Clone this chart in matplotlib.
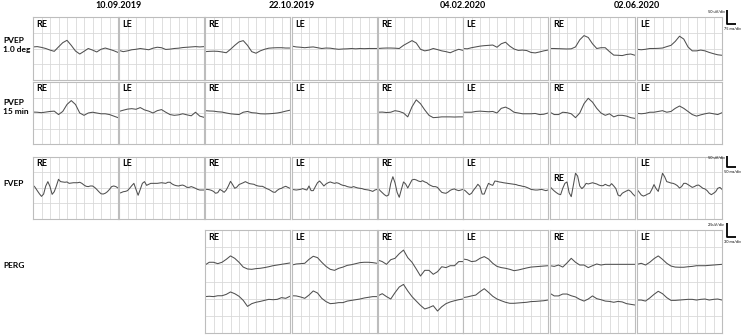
import numpy as np
import matplotlib
matplotlib.use("Agg")
from matplotlib import pyplot as plt

plt.rcParams["font.family"] = ["Lato", "DejaVu Sans"]

W, H = 746, 335

dates = ["10.09.2019", "22.10.2019", "04.02.2020", "02.06.2020"]
eyes = ["RE", "LE"]
row_labels = ["PVEP\n1.0 deg", "PVEP\n15 min", "FVEP", "PERG"]
scale_texts = [("50 uV/div", "75 ms/div"), ("50 uV/div", "50 ms/div"), ("2.5uV/div", "30 ms/div")]

# amplitudes in grid divisions, sampled evenly over the 10 time divisions
pvep_1deg = [
    [0.1, 0.12, 0.07, 0, -0.1, -0.18, 0.1, 0.37, 0.52, 0.2, -0.16, -0.35, -0.18, 0, -0.1, -0.22, -0.05, 0.03, -0.05, -0.14, -0.25],
    [-0.12, -0.2, -0.15, -0.08, -0.05, 0, -0.04, -0.08, 0.02, 0.08, 0.05, -0.06, -0.04, 0, 0.02, 0.06, 0.08, 0.1, 0.12, 0.1, 0.12],
    [-0.2, -0.18, -0.17, -0.18, -0.22, -0.27, -0.05, 0.2, 0.42, 0.5, 0.2, -0.2, -0.3, -0.15, -0.05, 0.02, 0.04, 0.05, 0.05, 0.03, 0.03],
    [0.15, 0.1, 0.08, 0.05, 0.08, 0.1, 0.05, 0, 0.03, 0.02, -0.02, -0.05, -0.03, -0.02, 0, -0.02, 0, -0.01, 0, 0, 0],
    [0, 0.02, 0.03, 0.03, 0.02, 0, 0.2, 0.35, 0.5, 0.35, -0.05, -0.15, -0.1, 0, -0.07, -0.15, -0.2, -0.27, -0.15, -0.05, -0.12],
    [0, -0.02, 0.05, 0.1, 0.15, 0.18, 0.2, 0.22, 0.08, 0.3, 0.4, 0.15, -0.03, -0.12, -0.1, -0.13, -0.25, -0.28, -0.22, -0.15, -0.1],
    [0, 0, -0.01, -0.02, -0.03, -0.02, 0.1, 0.55, 0.82, 0.7, 0.3, 0, 0.05, 0.05, -0.2, -0.42, -0.43, -0.45, -0.38, -0.35, -0.43],
    [-0.05, -0.08, -0.05, 0, 0, 0.01, 0.03, 0.12, 0.2, 0.45, 0.78, 0.6, 0.1, -0.15, -0.15, -0.1, -0.15, -0.25, -0.33, -0.4, -0.43],
]

pvep_15min = [
    [0.06, 0.05, 0.02, 0.06, 0.1, 0.12, -0.1, 0.1, 0.55, 0.8, 0.55, 0, -0.15, 0, 0.05, 0, -0.05, -0.05, -0.1, -0.2, -0.3],
    [0.1, 0.18, 0.25, 0.28, 0.24, 0.35, 0.2, 0.12, 0, 0.15, 0.22, 0.05, -0.1, -0.15, -0.12, -0.05, -0.12, -0.18, 0.05, -0.2, -0.28],
    [0.15, 0.13, 0.12, 0.08, 0.06, 0, -0.05, -0.08, -0.1, 0.05, 0.1, 0.02, 0, -0.05, -0.06, -0.05, -0.03, 0, 0.05, 0.12, 0.18],
    None,
    [0.05, 0.06, 0.03, 0.05, 0.15, 0.1, 0, -0.25, 0.4, 0.85, 0.6, 0.2, -0.15, -0.3, -0.28, -0.25, -0.25, -0.25, -0.26, -0.25, -0.25],
    [0.05, 0.05, 0.05, 0.1, 0.12, 0.1, 0.08, 0.1, 0, 0.3, 0.38, 0.25, 0.05, 0, -0.05, -0.05, -0.05, -0.03, -0.1, -0.08, 0],
    [0.05, -0.1, -0.1, 0.05, 0.02, -0.05, -0.3, 0, 0.6, 0.95, 0.7, 0.3, 0, -0.15, -0.05, -0.25, -0.15, -0.15, -0.2, -0.3, -0.35],
    [-0.02, -0.05, -0.02, 0.05, 0.05, 0.1, 0.15, 0.05, 0.1, 0.3, 0.45, 0.3, 0.1, -0.1, -0.2, -0.12, -0.05, 0, -0.05, -0.1, 0.02],
]

fvep = [
    [0.19, 0.04, -0.17, -0.37, -0.54, -0.39, 0.13, 0.41, 0.09, -0.41, -0.24, 0.13, 0.56, 0.41, 0.39, 0.37, 0.39, 0.3, 0.32, 0.34, 0.34,
     0.34, 0.37, 0.3, 0.19, 0.11, 0.09, 0.13, 0.13, 0.04, -0.09, -0.24, -0.37, -0.39, -0.34, -0.24, -0.09, 0.09, 0.13, 0.09, 0],
    [-0.34, -0.3, -0.24, -0.22, -0.17, -0.02, 0.15, 0.3, -0.09, -0.47, -0.09, 0.3, 0.41, 0.17, 0.24, 0.3, 0.3, 0.3, 0.3, 0.32, 0.34,
     0.32, 0.3, 0.37, 0.37, 0.26, 0.19, 0.15, 0.13, 0.17, 0.19, 0.13, 0.04, 0.04, 0.09, 0.04, -0.02, -0.09, -0.13, -0.13, -0.13],
    [-0.09, -0.09, -0.11, -0.15, -0.22, -0.34, -0.3, -0.09, -0.17, -0.28, -0.13, 0.13, 0.43, 0.22, -0.02, 0.06, 0.22, 0.28, 0.34, 0.41, 0.34,
     0.28, 0.26, 0.24, 0.17, 0.13, 0.11, 0.11, 0.04, -0.04, -0.09, -0.17, -0.26, -0.28, -0.15, -0.06, -0.02, 0.06, 0.11, 0.04, -0.02],
    [-0.09, -0.11, -0.13, -0.11, -0.09, -0.04, -0.09, -0.13, 0.13, -0.17, -0.17, 0.09, 0.34, 0.45, 0.3, 0.13, 0.26, 0.34, 0.39, 0.34, 0.3,
     0.34, 0.3, 0.22, 0.17, 0.15, 0.09, 0.06, 0.04, 0.09, 0.04, 0, -0.02, -0.04, -0.09, -0.11, -0.13, -0.17, -0.22, -0.13, -0.09],
    [-0.02, -0.17, -0.3, -0.43, -0.52, -0.45, 0.3, 0.73, 0.34, -0.28, -0.6, -0.09, 0.39, 0.26, 0, 0.26, 0.52, 0.56, 0.52, 0.45, 0.41,
     0.47, 0.39, 0.34, 0.22, 0.15, 0.09, 0.09, 0.04, -0.13, -0.28, -0.32, -0.34, -0.26, -0.15, -0.09, -0.06, -0.13, -0.17, -0.13, -0.09],
    [-0.09, -0.17, -0.3, -0.43, -0.34, -0.13, 0.04, 0.24, 0.09, -0.39, -0.39, -0.02, 0.3, 0.22, 0.17, 0.45, 0.43, 0.39, 0.37, 0.34, 0.32,
     0.3, 0.28, 0.26, 0.24, 0.22, 0.17, 0.15, 0.11, 0.09, 0.04, -0.02, -0.09, -0.11, -0.13, -0.13, -0.11, -0.09, -0.13, -0.17, -0.13],
    [0.09, -0.06, -0.19, -0.3, -0.39, -0.43, -0.02, 0.3, 0.39, -0.3, -0.56, 0.19, 0.95, 0.77, 0.13, -0.04, 0.09, 0.3, 0.26, 0.3, 0.34,
     0.3, 0.26, 0.19, 0.15, 0.15, 0.24, 0.17, 0.13, 0.28, 0.13, -0.04, -0.45, -0.52, -0.34, -0.26, -0.19, -0.13, -0.22, -0.39, -0.52],
    [-0.09, -0.26, -0.45, -0.52, -0.47, -0.39, -0.34, -0.09, 0.22, -0.04, -0.22, 0.34, 0.95, 0.73, 0.41, 0.37, 0.32, 0.3, 0.24, 0.15, 0,
     0.09, 0.3, 0.3, 0.22, 0.13, 0.04, 0.09, 0.17, 0.19, 0.09, -0.02, -0.06, -0.17, -0.34, -0.43, -0.34, -0.24, -0.02, 0.04, -0.09],
]

# PERG only recorded from 22.10.2019 on (columns 3-8)
perg_top = [
    [-0.04, 0.12, 0.12, 0.04, 0.12, 0.29, 0.49, 0.35, 0.12, -0.16, -0.27, -0.29, -0.25, -0.23, -0.19, -0.14, -0.08, -0.04, 0, 0.04, 0.08],
    [-0.04, 0.02, 0.04, 0.06, 0.29, 0.47, 0.39, 0.12, -0.12, -0.29, -0.35, -0.23, -0.16, -0.06, -0.02, 0.04, 0.1, 0.12, 0.12, 0.1, 0.06],
    [0.25, 0.16, 0, 0.27, 0.35, 0.62, 0.83, 0.39, 0.12, -0.27, -0.68, -0.35, -0.35, -0.58, -0.43, -0.14, -0.19, -0.08, -0.08, 0.16, 0.16],
    [0.31, 0.27, 0.16, 0.19, 0.35, 0.45, 0.31, 0.06, -0.12, -0.19, -0.23, -0.29, -0.37, -0.33, -0.27, -0.21, -0.16, -0.14, -0.12, -0.1, -0.08],
    [-0.08, -0.12, -0.04, -0.16, 0.08, 0.35, 0.12, -0.04, -0.04, -0.19, -0.08, 0.02, -0.04, 0, 0, 0, 0, 0, 0, 0, 0],
    [0, 0.06, -0.04, 0.12, 0.33, 0.49, 0.29, 0.06, -0.1, -0.16, -0.17, -0.17, -0.14, -0.12, -0.08, -0.08, -0.08, -0.06, -0.04, -0.02, 0],
]
perg_bottom = [
    [0.12, 0.14, 0.12, 0.17, 0.17, 0.25, 0.39, 0.29, 0.14, -0.1, -0.45, -0.29, -0.21, -0.16, -0.1, -0.04, -0.06, -0.04, 0.06, 0.02, 0.14],
    [0.17, 0.16, 0.1, 0.02, 0.21, 0.45, 0.33, 0.02, -0.17, -0.29, -0.27, -0.23, -0.23, -0.14, -0.1, -0.06, -0.02, 0.04, 0.08, 0.12, 0.12],
    [0.17, 0.29, 0.12, -0.02, 0.35, 0.68, 0.83, 0.45, 0.12, -0.14, -0.39, -0.6, -0.52, -0.41, -0.72, -0.47, -0.29, -0.19, -0.12, -0.06, -0.02],
    [0.06, 0.1, 0.16, 0.21, 0.41, 0.58, 0.37, 0.14, -0.02, -0.12, -0.21, -0.27, -0.27, -0.25, -0.23, -0.21, -0.17, -0.16, -0.14, -0.12, -0.08],
    [0.31, 0.16, 0.16, 0.27, 0.27, 0.17, 0.1, -0.04, -0.14, -0.02, 0.16, 0, -0.06, -0.14, -0.16, -0.21, -0.16, -0.19, -0.29, -0.33, -0.37],
    [-0.08, -0.08, -0.14, 0.04, 0.25, 0.43, 0.29, 0.06, -0.1, -0.1, -0.08, -0.06, -0.04, -0.04, -0.08, -0.04, -0.02, -0.08, -0.04, -0.02, -0.08],
]

GRID = "#d9d9d9"
EDGE = "#bdbdbd"
TRACE = "#505050"

col_x = [33, 119, 205, 292, 378, 463, 550, 637]
col_w = 86
rows = [(17, 63, 4), (82, 62, 4), (157, 62, 4), (230, 103, 6)]  # top, height, n divisions


def px_axes(fig, x, y, w, h):
    return fig.add_axes([x / W, 1 - (y + h) / H, w / W, h / H])


def panel(fig, col, row):
    top, h, ndiv = rows[row]
    ax = px_axes(fig, col_x[col], top, col_w - 1, h)
    ax.set_xlim(0, 10)
    ax.set_ylim(-ndiv / 2, ndiv / 2)
    for v in range(1, 10):
        ax.axvline(v, color=GRID, lw=0.6, zorder=0)
    for v in range(1, ndiv):
        ax.axhline(-ndiv / 2 + v, color=GRID, lw=0.6, zorder=0)
    ax.set_xticks([])
    ax.set_yticks([])
    for s in ax.spines.values():
        s.set_color(EDGE)
        s.set_linewidth(0.8)
    return ax


def trace(ax, vals, offset=0.0):
    t = np.linspace(0, 10, len(vals))
    ax.plot(t, np.array(vals) + offset, color=TRACE, lw=0.75)


fig = plt.figure(figsize=(W / 100, H / 100), dpi=100)
fig.patch.set_facecolor("white")

for r, data in enumerate([pvep_1deg, pvep_15min, fvep]):
    for c in range(8):
        ax = panel(fig, c, r)
        if data[c] is not None:
            trace(ax, data[c])
        ty = 0.72 if (r == 2 and c == 6) else 0.96
        ax.text(0.04, ty, eyes[c % 2], transform=ax.transAxes, fontsize=6.5, fontweight="bold", va="top")

for i in range(6):
    c = i + 2
    ax = panel(fig, c, 3)
    trace(ax, perg_top[i], offset=1.0)
    trace(ax, perg_bottom[i], offset=-1.0)
    ax.text(0.04, 0.97, eyes[c % 2], transform=ax.transAxes, fontsize=6.5, fontweight="bold", va="top")

# overlay in pixel coordinates for headers, row labels and scale bars
ov = fig.add_axes([0, 0, 1, 1])
ov.set_xlim(0, W)
ov.set_ylim(H, 0)
ov.axis("off")

for i, d in enumerate(dates):
    ov.text(col_x[2 * i + 1], 5, d, ha="center", va="center", fontsize=6.5, fontweight="bold")

label_y = [45, 107, 184, 265]
for lab, y in zip(row_labels, label_y):
    ov.text(3, y, lab, ha="left", va="center", fontsize=6, fontweight="bold", linespacing=1.35)

bar_pos = [(10, 24), (156, 167), (223, 237)]
for (amp, tm), (y0, y1) in zip(scale_texts, bar_pos):
    ov.plot([727, 727, 736], [y0, y1, y1], color="black", lw=1.3, solid_capstyle="butt")
    ov.text(725, y0 + 2, amp, ha="right", va="center", fontsize=2.8)
    ov.text(724, y1 + 5, tm, ha="left", va="center", fontsize=2.8)

fig.savefig("out.png", dpi=100, facecolor="white")
